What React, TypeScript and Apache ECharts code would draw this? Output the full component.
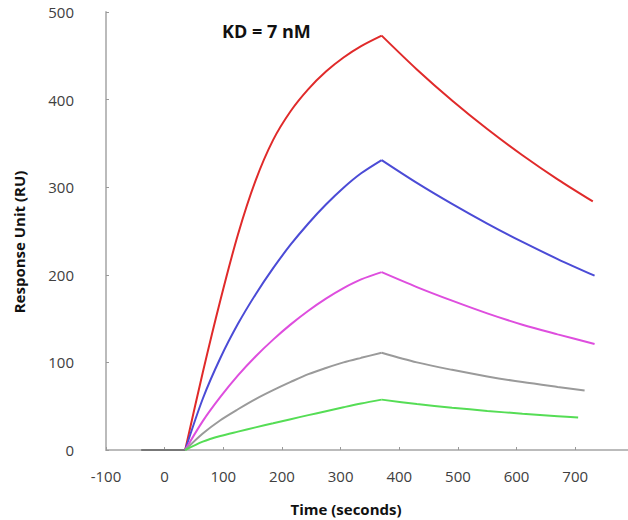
import React, { useEffect, useRef } from "react";
import * as echarts from "echarts";

const xTicks = [-100, 0, 100, 200, 300, 400, 500, 600, 700];
const yTicks = [0, 100, 200, 300, 400, 500];

const baseline: [number, number][] = [[-40, 0], [35, 0]];

const redAssoc: [number, number][] = [[35, 0], [65, 88.5], [95, 171], [125, 246], [155, 307.5], [185, 354], [215, 387], [245, 412], [275, 432], [305, 448], [335, 461], [370, 473]];
const redDissoc: [number, number][] = [[370, 473], [430, 434.4], [490, 399], [550, 366.4], [610, 336.5], [670, 309], [730, 283.8]];

const blueAssoc: [number, number][] = [[35, 0], [65, 58.5], [95, 105], [125, 144], [155, 177.6], [185, 207.6], [215, 234.6], [245, 258.6], [275, 280.2], [305, 299.4], [335, 315.9], [370, 331]];
const blueDissoc: [number, number][] = [[370, 331], [430, 305], [490, 281], [550, 258.5], [610, 237.5], [670, 218], [733, 199]];

const magentaAssoc: [number, number][] = [[35, 0], [65, 33], [95, 60.6], [125, 85.2], [155, 106.8], [185, 126], [215, 143.4], [245, 159], [275, 172.8], [305, 184.8], [335, 194.7], [370, 203]];
const magentaDissoc: [number, number][] = [[370, 203], [430, 186], [490, 170.5], [550, 156], [610, 143], [670, 132], [733, 121]];

const grayAssoc: [number, number][] = [[35, 0], [65, 18.8], [95, 34], [125, 46.5], [155, 58.1], [185, 68.3], [215, 77.7], [245, 86.6], [275, 93.6], [305, 100], [335, 105.2], [370, 111]];
const grayDissoc: [number, number][] = [[370, 111], [430, 100], [490, 91.5], [550, 84], [610, 77.5], [670, 72], [716, 68]];

const greenAssoc: [number, number][] = [[35, 0], [65, 9.5], [95, 16], [125, 21], [155, 25.8], [185, 30.5], [215, 35.2], [245, 39.8], [275, 44.3], [305, 48.8], [335, 53.1], [370, 57.5]];
const greenDissoc: [number, number][] = [[370, 57.5], [430, 52.5], [490, 48.3], [550, 44.6], [610, 41.4], [670, 38.6], [705, 37]];

const curves = [
  { color: "#e02a2a", parts: [redAssoc, redDissoc] },
  { color: "#4b4bd6", parts: [blueAssoc, blueDissoc] },
  { color: "#de4ede", parts: [magentaAssoc, magentaDissoc] },
  { color: "#9a9a9a", parts: [grayAssoc, grayDissoc] },
  { color: "#55dd55", parts: [greenAssoc, greenDissoc] },
];

const FONT = "'Open Sans', 'Noto Sans', sans-serif";

export default function App() {
  const ref = useRef<HTMLDivElement>(null);
  useEffect(() => {
    if (!ref.current) return;
    const chart = echarts.init(ref.current, undefined, { renderer: "svg" });
    const series: any[] = [
      {
        type: "line",
        data: baseline,
        showSymbol: false,
        lineStyle: { color: "#777", width: 2 },
        z: 1,
      },
    ];
    curves.forEach((c) => {
      c.parts.forEach((p) => {
        series.push({
          type: "line",
          data: p,
          smooth: 0.3,
          showSymbol: false,
          lineStyle: { color: c.color, width: 2 },
        });
      });
    });
    chart.setOption({
      animation: false,
      grid: { left: 106, top: 12, right: 0, bottom: 70 },
      xAxis: {
        type: "value",
        min: -100,
        max: 790,
        interval: 100,
        splitLine: { show: false },
        axisLine: { onZero: false, lineStyle: { color: "#bbb", width: 2 } },
        axisTick: { show: true, length: 3, inside: true, lineStyle: { color: "#999" }, customValues: xTicks },
        axisLabel: {
          margin: 18,
          fontSize: 15,
          color: "#404040",
          fontFamily: FONT,
          customValues: xTicks,
        },
      },
      yAxis: {
        type: "value",
        min: 0,
        max: 500,
        interval: 100,
        splitLine: { show: false },
        axisLine: { show: true, onZero: false, lineStyle: { color: "#bbb", width: 2 } },
        axisTick: { show: true, length: 3, inside: true, lineStyle: { color: "#999" }, customValues: yTicks },
        axisLabel: {
          margin: 32,
          fontSize: 15,
          color: "#404040",
          fontFamily: FONT,
          customValues: yTicks,
        },
      },
      graphic: [
        {
          type: "text",
          left: 222,
          top: 22,
          style: { text: "KD = 7 nM", font: `bold 18px ${FONT}`, fill: "#111" },
        },
        {
          type: "text",
          x: 346,
          y: 509,
          style: {
            text: "Time (seconds)",
            font: `bold 15px ${FONT}`,
            fill: "#111",
            align: "center",
            verticalAlign: "middle",
          },
        },
        {
          type: "text",
          x: 19,
          y: 242,
          rotation: Math.PI / 2,
          style: {
            text: "Response Unit (RU)",
            font: `bold 15px ${FONT}`,
            fill: "#111",
            align: "center",
            verticalAlign: "middle",
          },
        },
      ],
      series,
    });
    return () => chart.dispose();
  }, []);
  return <div ref={ref} style={{ width: 628, height: 520, position: "absolute", left: 0, top: 0 }} />;
}
